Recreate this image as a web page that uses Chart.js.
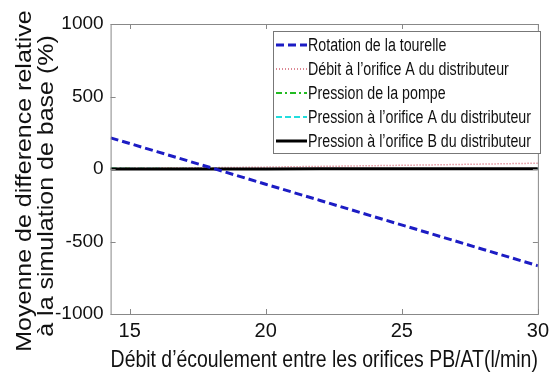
<!DOCTYPE html>
<html>
<head>
<meta charset="utf-8">
<script src="https://cdn.jsdelivr.net/npm/chart.js@4"></script>
<style>
  body { margin: 0; background: #fff; }
  #wrap { width: 554px; height: 374px; }
</style>
</head>
<body>
<div id="wrap"><canvas id="myChart"></canvas></div>
<script>
// debit values (l/min)
const xValues = [14.3, 16, 18, 20, 22, 24, 26, 28, 30];
const rotation = [215, 120, 8, -105, -217, -330, -442, -555, -667];
const debitA = [4, 6, 9, 13, 18, 23, 28, 34, 40];
const pompe = [3, 2, 1, 0, 0, 0, 0, 0, 0];
const pressionA = [1, 1, 0, 0, 0, 0, 0, 0, 0];
const pressionB = [0, 0, 0, 0, 1, 1, 2, 2, 2];
const labels = [
  "Rotation de la tourelle",
  "Débit à l’orifice A du distributeur",
  "Pression de la pompe",
  "Pression à l’orifice A du distributeur",
  "Pression à l’orifice B du distributeur"
];
const yTitle = ['Moyenne de difference relative', 'à la simulation de base (%)'];
const xTitle = 'Débit d’écoulement entre les orifices PB/AT(l/min)';
const yTicks = [-1000, -500, 0, 500, 1000];
const xTicks = [15, 20, 25, 30];

const narrow = '"Liberation Sans Narrow", "Arial Narrow", "Liberation Sans", Arial, sans-serif';

function pts(ys) { return xValues.map((x, i) => ({ x: x, y: ys[i] })); }

// matlab style ticks inside the box, y title and legend box
const boxPlugin = {
  id: 'box',
  afterDraw(chart) {
    const ctx = chart.ctx, a = chart.chartArea;
    const sx = chart.scales.x, sy = chart.scales.y;
    ctx.save();
    ctx.strokeStyle = '#888';
    ctx.lineWidth = 1;
    ctx.strokeRect(a.left + 0.5, a.top + 0.5, a.right - a.left, a.bottom - a.top);
    ctx.beginPath();
    xTicks.forEach(t => {
      const px = Math.round(sx.getPixelForValue(t)) + 0.5;
      ctx.moveTo(px, a.bottom); ctx.lineTo(px, a.bottom - 5);
      ctx.moveTo(px, a.top); ctx.lineTo(px, a.top + 5);
    });
    yTicks.forEach(t => {
      const py = Math.round(sy.getPixelForValue(t)) + 0.5;
      ctx.moveTo(a.left, py); ctx.lineTo(a.left + 5, py);
      ctx.moveTo(a.right, py); ctx.lineTo(a.right - 5, py);
    });
    ctx.stroke();

    // y title, two lines (glyphs a bit squeezed like the source image)
    ctx.fillStyle = '#111';
    ctx.font = '25px "Liberation Sans", Arial, sans-serif';
    ctx.textAlign = 'center';
    ctx.textBaseline = 'middle';
    [[25, 181], [47, 186]].forEach((p, i) => {
      ctx.save();
      ctx.translate(p[0], p[1]);
      ctx.rotate(-Math.PI / 2);
      ctx.scale(1, 0.86);
      ctx.fillText(yTitle[i], 0, 0);
      ctx.restore();
    });

    // legend
    const lx = 273, ly = 31, lw = 267, lh = 122;
    ctx.fillStyle = '#fff';
    ctx.fillRect(lx, ly, lw, lh);
    ctx.strokeStyle = '#777';
    ctx.lineWidth = 1;
    ctx.strokeRect(lx + 0.5, ly + 0.5, lw, lh);
    ctx.font = '18px ' + narrow;
    ctx.textAlign = 'left';
    const fit = Math.min(1, 223 / ctx.measureText(labels[4]).width);
    chart.data.datasets.forEach((ds, i) => {
      const y = ly + 14 + i * 24;
      ctx.beginPath();
      ctx.strokeStyle = ds.borderColor;
      ctx.lineWidth = ds.borderWidth;
      ctx.setLineDash(ds.borderDash || []);
      ctx.moveTo(lx + 3, y); ctx.lineTo(lx + 34, y);
      ctx.stroke();
      ctx.setLineDash([]);
      ctx.fillStyle = '#111';
      ctx.save();
      ctx.translate(lx + 35, y + 1);
      ctx.scale(fit, 1);
      ctx.fillText(ds.label, 0, 0);
      ctx.restore();
    });
    ctx.restore();
  }
};

new Chart(document.getElementById('myChart'), {
  type: 'line',
  data: {
    datasets: [
      { label: labels[0], data: pts(rotation), borderColor: '#1c1cc4', borderWidth: 3, borderDash: [8, 4], order: 0 },
      { label: labels[1], data: pts(debitA), borderColor: '#d06070', borderWidth: 1.5, borderDash: [1, 2], order: 2 },
      { label: labels[2], data: pts(pompe), borderColor: '#22bb22', borderWidth: 2, borderDash: [6, 3, 2, 3], order: 4 },
      { label: labels[3], data: pts(pressionA), borderColor: '#22dddd', borderWidth: 2, borderDash: [6, 3], order: 3 },
      { label: labels[4], data: pts(pressionB), borderColor: '#000', borderWidth: 3, order: 1 }
    ]
  },
  options: {
    responsive: true,
    maintainAspectRatio: false,
    animation: false,
    elements: { point: { radius: 0 }, line: { tension: 0, fill: false } },
    layout: { padding: { top: 24, right: 13, left: 48, bottom: 2 } },
    plugins: { legend: { display: false }, tooltip: { enabled: false } },
    scales: {
      x: {
        type: 'linear', min: 14.3, max: 30,
        afterBuildTicks: s => { s.ticks = xTicks.map(v => ({ value: v })); },
        grid: { display: false, drawTicks: false },
        border: { display: false },
        ticks: { color: '#111', padding: 5, callback: v => String(v), font: { size: 20, family: narrow } },
        title: { display: true, text: xTitle, color: '#111', padding: 0,
                 font: { size: 24, family: narrow, lineHeight: 1.0 } }
      },
      y: {
        min: -1000, max: 1000,
        afterBuildTicks: s => { s.ticks = yTicks.map(v => ({ value: v })); },
        grid: { display: false, drawTicks: false },
        border: { display: false },
        ticks: { color: '#111', padding: 7, callback: v => String(v), font: { size: 19, family: narrow } }
      }
    }
  },
  plugins: [boxPlugin]
});
</script>
</body>
</html>
